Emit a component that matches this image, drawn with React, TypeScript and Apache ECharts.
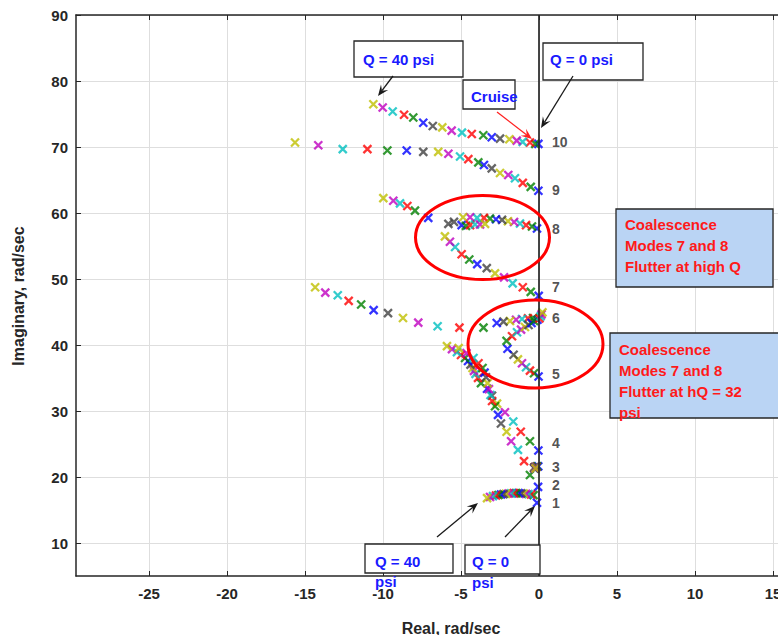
import React, { useEffect, useRef } from "react";
import * as echarts from "echarts";

// Root-locus trajectories, one [real, imaginary] pair per dynamic-pressure step (Q = 0 … 40 psi)
const mode1 = [
  [-0.13, 16.2], [-0.35, 17.35], [-0.51, 17.45], [-0.67, 17.5], [-0.83, 17.55], [-0.99, 17.6], [-1.15, 17.62],
  [-1.31, 17.65], [-1.47, 17.65], [-1.63, 17.65], [-1.79, 17.62], [-1.96, 17.6], [-2.12, 17.55], [-2.28, 17.5],
  [-2.44, 17.45], [-2.6, 17.38], [-2.76, 17.3], [-2.95, 17.2], [-3.14, 17.07], [-3.33, 16.9],
];
const mode2 = [
  [-0.06, 18.6], [-0.58, 20.4], [-0.96, 22.5], [-1.35, 24.2], [-1.79, 25.5], [-2.08, 26.95], [-2.44, 28.2],
  [-2.63, 29.5], [-2.82, 30.8], [-3.01, 31.6], [-3.11, 32.5], [-3.21, 33.4], [-3.3, 34.3], [-3.4, 35.2],
  [-3.49, 35.9], [-3.62, 36.6], [-3.88, 37.3], [-4.2, 38.1], [-4.65, 38.85], [-5.15, 39.6],
];
const mode3 = [
  [-0.05, 21.7], [-0.12, 21.7], [-0.18, 21.65], [-0.22, 21.6], [-0.25, 21.6], [-0.27, 21.55], [-0.28, 21.55],
  [-0.29, 21.5], [-0.3, 21.5], [-0.3, 21.5], [-0.3, 21.45], [-0.3, 21.45], [-0.29, 21.45], [-0.28, 21.4],
  [-0.27, 21.4], [-0.26, 21.4], [-0.25, 21.4], [-0.24, 21.4], [-0.23, 21.4], [-0.22, 21.4],
];
const mode4 = [
  [-0.04, 24.1], [-0.58, 25.5], [-1.17, 26.95], [-1.65, 28.5], [-2.18, 29.9], [-2.69, 31.2], [-3.01, 32.4],
  [-3.33, 33.45], [-3.72, 34.3], [-3.91, 35.1], [-4.07, 35.7], [-4.17, 36.15], [-4.26, 36.6], [-4.39, 37.1],
  [-4.55, 37.65], [-4.74, 38.1], [-5.0, 38.55], [-5.26, 39.0], [-5.58, 39.45], [-5.9, 39.9],
];
const mode5 = [
  [-0.03, 35.3], [-0.32, 35.8], [-0.58, 36.2], [-0.83, 36.7], [-1.09, 37.3], [-1.35, 37.9], [-1.63, 38.6],
  [-2.02, 39.5], [-2.08, 40.7], [-1.73, 41.4], [-1.41, 42.0], [-1.15, 42.4], [-0.9, 42.8], [-0.67, 43.1],
  [-0.48, 43.4], [-0.32, 43.7], [0.03, 44.1], [0.1, 44.4], [0.16, 44.7], [0.22, 45.0],
];
const mode6 = [
  [-0.1, 43.9], [-0.38, 44.15], [-0.71, 44.1], [-1.09, 44.0], [-1.47, 43.9], [-1.86, 43.7], [-2.28, 43.6],
  [-2.71, 43.4], [-3.56, 42.7], [-5.1, 42.7], [-6.5, 42.9], [-7.74, 43.45], [-8.72, 44.15], [-9.68, 44.9],
  [-10.6, 45.35], [-11.4, 46.2], [-12.2, 46.75], [-12.9, 47.6], [-13.7, 48.0], [-14.35, 48.8],
];
const mode7 = [
  [-0.02, 47.5], [-0.53, 48.1], [-1.04, 48.8], [-1.69, 49.4], [-2.24, 50.3], [-2.82, 50.9], [-3.35, 51.7],
  [-3.96, 52.3], [-4.47, 53.0], [-4.96, 53.8], [-5.38, 54.9], [-5.71, 55.7], [-6.03, 56.5], [-5.81, 58.4],
  [-7.1, 59.3], [-7.95, 60.4], [-8.44, 61.1], [-8.91, 61.5], [-9.34, 61.9], [-9.98, 62.3],
];
const mode8 = [
  [-0.13, 57.7], [-0.45, 58.0], [-0.83, 58.2], [-1.22, 58.45], [-1.6, 58.68], [-1.99, 58.8], [-2.37, 59.0],
  [-2.76, 59.1], [-3.14, 59.2], [-3.53, 59.3], [-3.97, 59.3], [-4.42, 59.4], [-4.87, 59.4], [-5.45, 58.7],
  [-4.96, 58.2], [-4.68, 58.1], [-4.42, 58.2], [-4.1, 58.3], [-3.78, 58.3], [-3.46, 58.4],
];
const mode9 = [
  [-0.04, 63.4], [-0.53, 64.0], [-1.04, 64.6], [-1.54, 65.3], [-1.97, 65.8], [-2.5, 66.1], [-3.03, 66.8],
  [-3.53, 67.3], [-3.89, 67.7], [-4.53, 68.2], [-5.06, 68.6], [-5.81, 69.0], [-6.46, 69.3], [-7.42, 69.3],
  [-8.48, 69.5], [-9.72, 69.5], [-11.0, 69.7], [-12.58, 69.7], [-14.15, 70.3], [-15.64, 70.7],
];
const mode10 = [
  [-0.04, 70.5], [-0.24, 70.5], [-0.58, 70.7], [-1.05, 70.8], [-1.43, 71.0], [-1.9, 71.2], [-2.5, 71.3],
  [-3.03, 71.5], [-3.57, 71.8], [-4.31, 72.0], [-4.94, 72.2], [-5.6, 72.5], [-6.2, 73.0], [-6.81, 73.2],
  [-7.42, 73.7], [-8.06, 74.5], [-8.65, 74.9], [-9.38, 75.4], [-10.02, 76.0], [-10.62, 76.5],
];

// Marker colour cycles b, g, r, c, m, y, k through the pressure steps
const stepColors = ["#0000ff", "#008000", "#ff0000", "#00bfbf", "#bf00bf", "#bfbf00", "#404040"];
const xTicks = [-25, -20, -15, -10, -5, 0, 5, 10, 15];
const yTicks = [10, 20, 30, 40, 50, 60, 70, 80, 90];
const modeNames = ["1", "2", "3", "4", "5", "6", "7", "8", "9", "10"];
const modeLabelIm = [16.2, 18.9, 21.6, 25.2, 35.7, 44.2, 48.9, 57.6, 63.5, 70.8];

const X_MIN = -29.68;
const X_MAX = 15.32;
const Y_MIN = 5.12;
const Y_MAX = 90;
const FONT = "'Liberation Sans', Arial, Helvetica, sans-serif";
const AXIS_COLOR = "#262626";
const BLUE = "#1a1aff";
const RED = "#ff1a1a";
const X_MARK = "path://M0,0L10,10M10,0L0,10";

function arrow(x1: number, y1: number, x2: number, y2: number, color: string) {
  const dx = x2 - x1;
  const dy = y2 - y1;
  const len = Math.hypot(dx, dy);
  const ux = dx / len;
  const uy = dy / len;
  const hl = 11;
  const hw = 4.5;
  const bx = x2 - ux * hl;
  const by = y2 - uy * hl;
  const nx = x2 - ux * hl * 0.6;
  const ny = y2 - uy * hl * 0.6;
  const px = -uy;
  const py = ux;
  return [
    { type: "line", z: 20, shape: { x1, y1, x2: nx, y2: ny }, style: { stroke: color, lineWidth: 1.3 } },
    {
      type: "polygon",
      z: 20,
      shape: { points: [[x2, y2], [bx + px * hw, by + py * hw], [nx, ny], [bx - px * hw, by - py * hw]] },
      style: { fill: color },
    },
  ];
}

function box(x: number, y: number, w: number, h: number, fill: string) {
  return {
    type: "rect",
    z: 15,
    shape: { x, y, width: w, height: h },
    style: { fill, stroke: AXIS_COLOR, lineWidth: 1.3 },
  };
}

function note(x: number, y: number, text: string, color: string, size = 15) {
  return {
    type: "text",
    z: 21,
    x,
    y,
    style: {
      text,
      fill: color,
      font: `bold ${size}px ${FONT}`,
      textAlign: "left",
      textVerticalAlign: "middle",
      align: "left",
      verticalAlign: "middle",
    },
  };
}

function ring(cx: number, cy: number, rx: number, ry: number) {
  return {
    type: "ellipse",
    z: 18,
    shape: { cx, cy, rx, ry },
    style: { fill: "none", stroke: "#ff0000", lineWidth: 3 },
  };
}

export default function App() {
  const ref = useRef<HTMLDivElement>(null);

  useEffect(() => {
    if (!ref.current) return;
    const chart = echarts.init(ref.current, null, { renderer: "svg" });
    const modes = [mode1, mode2, mode3, mode4, mode5, mode6, mode7, mode8, mode9, mode10];

    const stepSeries = mode1.map((_, i) => ({
      type: "scatter",
      name: `step ${i}`,
      data: modes.map((m) => m[i]),
      symbol: X_MARK,
      symbolSize: 8,
      silent: true,
      z: 4,
      itemStyle: { color: stepColors[i % 7], borderColor: stepColors[i % 7], borderWidth: 2.3 },
    }));

    const labelSeries = {
      type: "scatter",
      name: "modes",
      data: modeLabelIm.map((v) => [0.83, v]),
      symbolSize: 0,
      silent: true,
      z: 5,
      label: {
        show: true,
        position: "right",
        distance: 0,
        formatter: (p: any) => modeNames[p.dataIndex],
        fontSize: 14,
        fontWeight: "bold",
        fontFamily: FONT,
        color: AXIS_COLOR,
      },
      markLine: {
        silent: true,
        symbol: ["none", "none"],
        label: { show: false },
        lineStyle: { color: AXIS_COLOR, width: 1.7, type: "solid" },
        data: [{ xAxis: 0 }],
      },
    };

    const tickLabel = {
      fontSize: 15,
      fontWeight: "bold",
      fontFamily: FONT,
      color: AXIS_COLOR,
    };

    const graphics: any[] = [
      box(354, 41, 109, 36, "#ffffff"),
      note(363, 59, "Q = 40 psi", BLUE),
      ...arrow(393, 76, 378, 96, "#1a1a1a"),
      box(463, 80, 52, 29, "#ffffff"),
      note(471, 96, "Cruise", BLUE),
      ...arrow(497, 112, 532, 139, "#ff2020"),
      box(543, 43, 100, 37, "#ffffff"),
      note(550, 59, "Q = 0 psi", BLUE),
      ...arrow(573, 76, 541, 128, "#1a1a1a"),
      ring(482.5, 237.5, 67, 42),
      ring(535.5, 344, 67.5, 44),
      box(616, 209, 157, 78, "#bad4f4"),
      note(625, 224, "Coalescence", RED),
      note(625, 245, "Modes 7 and 8", RED),
      note(625, 266, "Flutter at high Q", RED),
      box(610, 333, 175, 85, "#bad4f4"),
      note(619, 349, "Coalescence", RED),
      note(619, 370, "Modes 7 and 8", RED),
      note(619, 391, "Flutter at hQ = 32", RED),
      note(619, 412, "psi", RED),
      box(365, 544, 88, 29, "#ffffff"),
      note(375, 561, "Q = 40", BLUE),
      note(375, 581, "psi", BLUE),
      box(465, 545, 75, 29, "#ffffff"),
      note(472, 561, "Q = 0", BLUE),
      note(472, 582, "psi", BLUE),
      ...arrow(437, 537, 478, 503, "#1a1a1a"),
      ...arrow(505, 537, 535, 506, "#1a1a1a"),
      {
        type: "text",
        z: 21,
        x: 451,
        y: 628,
        style: {
          text: "Real, rad/sec",
          fill: AXIS_COLOR,
          font: `bold 16px ${FONT}`,
          textAlign: "center",
          textVerticalAlign: "middle",
          align: "center",
          verticalAlign: "middle",
        },
      },
      {
        type: "text",
        z: 21,
        x: 18,
        y: 296,
        rotation: Math.PI / 2,
        style: {
          text: "Imaginary, rad/sec",
          fill: AXIS_COLOR,
          font: `bold 16px ${FONT}`,
          textAlign: "center",
          textVerticalAlign: "middle",
          align: "center",
          verticalAlign: "middle",
        },
      },
    ];

    chart.setOption({
      animation: false,
      backgroundColor: "#ffffff",
      grid: { left: 76, top: 15, right: 0, bottom: 59, containLabel: false, outerBoundsMode: "none" },
      xAxis: [
        {
          type: "value",
          min: X_MIN,
          max: X_MAX,
          axisLine: { show: true, onZero: false, lineStyle: { color: AXIS_COLOR, width: 1.5 } },
          axisTick: { show: true, inside: true, length: 5, customValues: xTicks, lineStyle: { color: AXIS_COLOR } },
          axisLabel: { ...tickLabel, customValues: xTicks, margin: 10 },
          splitLine: { show: true, lineStyle: { color: "#dedede", width: 1 } },
        },
        {
          type: "value",
          position: "top",
          min: X_MIN,
          max: X_MAX,
          axisLine: { show: true, onZero: false, lineStyle: { color: AXIS_COLOR, width: 1.5 } },
          axisTick: { show: true, inside: true, length: 5, customValues: xTicks, lineStyle: { color: AXIS_COLOR } },
          axisLabel: { show: false },
          splitLine: { show: false },
        },
      ],
      yAxis: {
        type: "value",
        min: Y_MIN,
        max: Y_MAX,
        axisLine: { show: true, onZero: false, lineStyle: { color: AXIS_COLOR, width: 1.5 } },
        axisTick: { show: true, inside: true, length: 5, customValues: yTicks, lineStyle: { color: AXIS_COLOR } },
        axisLabel: { ...tickLabel, customValues: yTicks, margin: 8 },
        splitLine: { show: true, lineStyle: { color: "#dedede", width: 1 } },
      },
      series: [labelSeries, ...stepSeries],
      graphic: graphics,
    });

    return () => chart.dispose();
  }, []);

  return (
    <div
      ref={ref}
      style={{ position: "fixed", left: 0, top: 0, width: 778, height: 635, background: "#ffffff" }}
    />
  );
}
